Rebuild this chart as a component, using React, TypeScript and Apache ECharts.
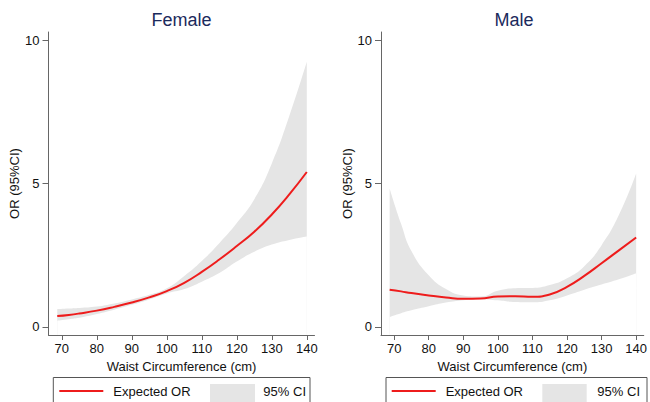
import React, { useEffect, useRef } from "react";
import * as echarts from "echarts";

const X = [68.7, 72, 75, 80, 85, 90, 95, 100, 105, 110, 115, 120, 125, 130, 135, 140];
const femaleOR = [0.38, 0.42, 0.47, 0.57, 0.70, 0.85, 1.03, 1.25, 1.54, 1.92, 2.35, 2.82, 3.32, 3.92, 4.62, 5.40];
const femaleUpper = [0.62, 0.64, 0.66, 0.71, 0.82, 0.96, 1.12, 1.35, 1.78, 2.3, 2.92, 3.62, 4.45, 5.7, 7.35, 9.24];
const femaleLower = [0.22, 0.27, 0.32, 0.45, 0.60, 0.77, 0.96, 1.17, 1.32, 1.58, 1.88, 2.28, 2.62, 2.87, 3.03, 3.15];
const maleOR = [1.30, 1.24, 1.18, 1.10, 1.03, 0.98, 0.99, 1.06, 1.07, 1.05, 1.13, 1.40, 1.78, 2.22, 2.67, 3.12];
const maleUpper = [4.83, 3.6, 2.65, 1.80, 1.32, 1.10, 1.06, 1.26, 1.35, 1.36, 1.46, 1.70, 2.12, 2.85, 3.9, 5.35];
const maleLower = [0.35, 0.48, 0.58, 0.72, 0.85, 0.93, 0.97, 0.93, 0.87, 0.86, 0.93, 1.10, 1.30, 1.48, 1.66, 1.87];

const xTicks = [70, 80, 90, 100, 110, 120, 130, 140];
const yTicks = [0, 5, 10];
const panelTitles = ["Female", "Male"];
const xName = "Waist Circumference (cm)";
const yName = "OR (95%CI)";
const legendNames = ["Expected OR", "95% CI"];

const RED = "#ee1c1c";
const BAND = "#e5e5e5";
const AXIS = "#666";
const FONT = '"Liberation Sans", Arial, Helvetica, sans-serif';
const SMOOTH = 0.5;

export default function App() {
  const ref = useRef<HTMLDivElement>(null);
  useEffect(() => {
    if (!ref.current) return;
    const chart = echarts.init(ref.current, undefined, { renderer: "svg" });
    const grids = [
      { left: 48.5, top: 32, width: 266, height: 303 },
      { left: 381, top: 32, width: 266, height: 303 },
    ];
    const mkX = (i: number) => ({
      type: "value",
      gridIndex: i,
      min: 66.2,
      max: 142.2,
      z: 10,
      name: xName,
      nameLocation: "middle",
      nameGap: 17,
      nameTextStyle: { fontSize: 13, color: "#111", fontFamily: FONT },
      axisLine: { show: true, onZero: false, lineStyle: { color: AXIS, width: 1 } },
      axisTick: { show: true, length: 5, customValues: xTicks, lineStyle: { color: AXIS } },
      axisLabel: { customValues: xTicks, margin: 7, fontSize: 13, color: "#111", fontFamily: FONT },
      splitLine: { show: false },
    });
    const mkY = (i: number) => ({
      type: "value",
      gridIndex: i,
      min: -0.28,
      max: 10.28,
      z: 10,
      name: yName,
      nameLocation: "middle",
      nameGap: 21,
      nameTextStyle: { fontSize: 13, color: "#111", fontFamily: FONT },
      axisLine: { show: true, onZero: false, lineStyle: { color: AXIS, width: 1 } },
      axisTick: { show: true, length: 6, customValues: yTicks, lineStyle: { color: AXIS } },
      axisLabel: { customValues: yTicks, margin: 9, fontSize: 13, color: "#111", fontFamily: FONT },
      splitLine: { show: false },
    });
    const panels = [
      { or: femaleOR, up: femaleUpper, lo: femaleLower },
      { or: maleOR, up: maleUpper, lo: maleLower },
    ];
    const series: any[] = [];
    panels.forEach((p, i) => {
      // upper bound: grey area down to the axis
      series.push({
        type: "line",
        name: legendNames[1],
        xAxisIndex: i,
        yAxisIndex: i,
        data: X.map((x, k) => [x, p.up[k]]),
        symbol: "none",
        smooth: SMOOTH,
        lineStyle: { width: 0, opacity: 0 },
        areaStyle: { color: BAND, opacity: 1, origin: "start" },
        silent: true,
        z: 2,
      });
      // lower bound: white area masks below the band
      series.push({
        type: "line",
        xAxisIndex: i,
        yAxisIndex: i,
        data: X.map((x, k) => [x, p.lo[k]]),
        symbol: "none",
        smooth: SMOOTH,
        lineStyle: { width: 0, opacity: 0 },
        areaStyle: { color: "#ffffff", opacity: 1, origin: "start" },
        silent: true,
        z: 3,
      });
      series.push({
        type: "line",
        name: legendNames[0],
        xAxisIndex: i,
        yAxisIndex: i,
        data: X.map((x, k) => [x, p.or[k]]),
        symbol: "none",
        smooth: SMOOTH,
        lineStyle: { color: RED, width: 2 },
        z: 5,
      });
    });

    const legendBoxes = [
      { box: [53.3, 310], line: [59.3, 103.3], text: 113.3, sw: [210, 255], ci: 306 },
      { box: [386, 647], line: [391.7, 435.7], text: 445.7, sw: [542.3, 586.7], ci: 640 },
    ];
    const graphics: any[] = [];
    panelTitles.forEach((t, i) => {
      const g = grids[i];
      graphics.push({
        type: "text",
        style: {
          text: t,
          x: g.left + g.width / 2,
          y: 20,
          align: "center",
          verticalAlign: "middle",
          fontSize: 18,
          fontFamily: FONT,
          fill: "#1b2a5c",
        },
      });
    });
    legendBoxes.forEach((l) => {
      graphics.push({
        type: "rect",
        shape: { x: l.box[0], y: 377.5, width: l.box[1] - l.box[0], height: 30 },
        style: { fill: "#fff", stroke: "#555", lineWidth: 1 },
      });
      graphics.push({
        type: "line",
        shape: { x1: l.line[0], y1: 391, x2: l.line[1], y2: 391 },
        style: { stroke: RED, lineWidth: 2 },
        z: 10,
      });
      graphics.push({
        type: "text",
        style: {
          text: legendNames[0],
          x: l.text,
          y: 391,
          align: "left",
          verticalAlign: "middle",
          fontSize: 13,
          fontFamily: FONT,
          fill: "#111",
        },
        z: 10,
      });
      graphics.push({
        type: "rect",
        shape: { x: l.sw[0], y: 384, width: l.sw[1] - l.sw[0], height: 20 },
        style: { fill: BAND },
        z: 10,
      });
      graphics.push({
        type: "text",
        style: {
          text: legendNames[1],
          x: l.ci,
          y: 391,
          align: "right",
          verticalAlign: "middle",
          fontSize: 13,
          fontFamily: FONT,
          fill: "#111",
        },
        z: 10,
      });
    });

    chart.setOption({
      animation: false,
      backgroundColor: "#fff",
      grid: grids,
      xAxis: [mkX(0), mkX(1)],
      yAxis: [mkY(0), mkY(1)],
      series,
      graphic: graphics,
    });
    return () => chart.dispose();
  }, []);
  return (
    <div
      ref={ref}
      style={{ position: "absolute", left: 0, top: 0, width: 650, height: 402 }}
    />
  );
}
